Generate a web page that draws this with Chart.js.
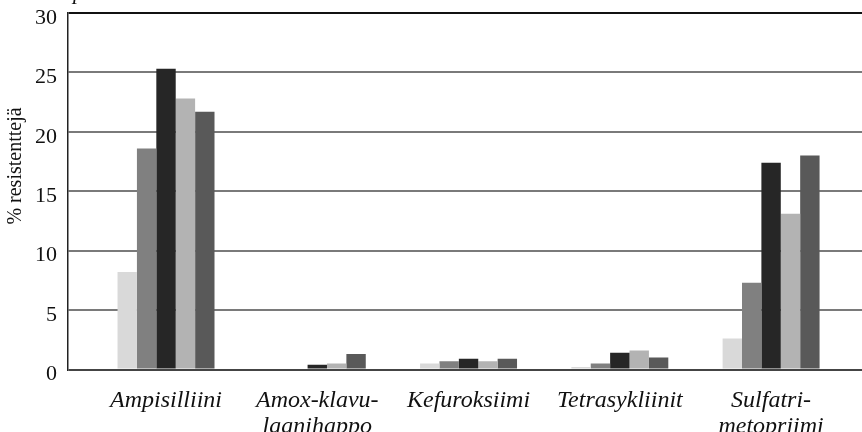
<!DOCTYPE html>
<html>
<head>
<meta charset="utf-8">
<script src="https://cdn.jsdelivr.net/npm/chart.js@4"></script>
<style>
  html, body { margin: 0; padding: 0; background: #fff; }
  #wrap { width: 862px; height: 432px; }
</style>
</head>
<body>
<div id="wrap"><canvas id="resChart" width="862" height="432"></canvas></div>
<script>
// categories and series (% resistant)
const categories = ['Ampisilliini', ['Amox-klavu-', 'laanihappo'], 'Kefuroksiimi', 'Tetrasykliinit', ['Sulfatri-', 'metopriimi']];
const series1 = [8.2, 0, 0.5, 0.2, 2.6];
const series2 = [18.6, 0, 0.7, 0.5, 7.3];
const series3 = [25.3, 0.4, 0.9, 1.4, 17.4];
const series4 = [22.8, 0.5, 0.7, 1.6, 13.1];
const series5 = [21.7, 1.3, 0.9, 1.0, 18.0];
const seriesColors = ['#d9d9d9', '#808080', '#262626', '#b3b3b3', '#595959'];
const yTicks = [0, 5, 10, 15, 20, 25, 30];
const yTitle = '% resistenttejä';

const serif = '"Liberation Serif", "Times New Roman", serif';

function toPoints(vals){ return vals.map((v, i) => ({x: i, y: v})); }

// y-axis title sits a bit above the middle in the original, so draw it by hand
const yTitlePlugin = {
  id: 'yTitle',
  afterDraw(chart){
    const ctx = chart.ctx;
    ctx.save();
    ctx.font = '20px ' + serif;
    ctx.fillStyle = '#111';
    ctx.textAlign = 'center';
    ctx.textBaseline = 'middle';
    ctx.translate(16, 166);
    ctx.rotate(-Math.PI / 2);
    ctx.fillText(yTitle, 0, 0);
    ctx.restore();
    // clipped title fragment at the very top
    ctx.save();
    ctx.font = 'italic 22px ' + serif;
    ctx.fillStyle = '#111';
    ctx.textBaseline = 'alphabetic';
    ctx.fillText('p', 73, -1);
    ctx.restore();
  }
};

new Chart(document.getElementById('resChart'), {
  type: 'bar',
  data: {
    datasets: [series1, series2, series3, series4, series5].map((s, i) => ({
      data: toPoints(s),
      backgroundColor: seriesColors[i],
      borderWidth: 0,
      categoryPercentage: 0.641,
      barPercentage: 1
    }))
  },
  options: {
    responsive: false,
    animation: false,
    layout: { padding: { top: 13, right: 0, left: 0, bottom: 0 } },
    plugins: { legend: { display: false }, tooltip: { enabled: false }, title: { display: false } },
    scales: {
      x: {
        type: 'linear',
        offset: false,
        min: -0.648,
        max: 4.601,
        grid: { display: false, drawTicks: false },
        border: { display: false },
        ticks: {
          stepSize: 1,
          includeBounds: false,
          autoSkip: false,
          maxRotation: 0,
          padding: 18,
          color: '#111',
          font: { family: serif, size: 24, style: 'italic', lineHeight: 1.1 },
          callback: v => (Number.isInteger(v) && categories[v] !== undefined) ? categories[v] : ''
        },
        afterFit: s => { s.height = 62.5; s.paddingLeft = 0; s.paddingRight = 0; }
      },
      y: {
        min: 0,
        max: 30,
        afterBuildTicks: s => { s.ticks = yTicks.map(v => ({value: v})); },
        grid: {
          drawTicks: false,
          lineWidth: 2,
          color: c => c.tick && c.tick.value === 30 ? '#111' : (c.tick && c.tick.value === 0 ? '#444' : '#7a7a7a')
        },
        border: { display: true, color: '#222', width: 1.5 },
        ticks: {
          padding: 11,
          labelOffset: 5,
          color: '#111',
          font: { family: serif, size: 22 }
        },
        afterFit: s => { s.width = 68; s.paddingTop = 0; s.paddingBottom = 0; }
      }
    }
  },
  plugins: [yTitlePlugin]
});
</script>
</body>
</html>
